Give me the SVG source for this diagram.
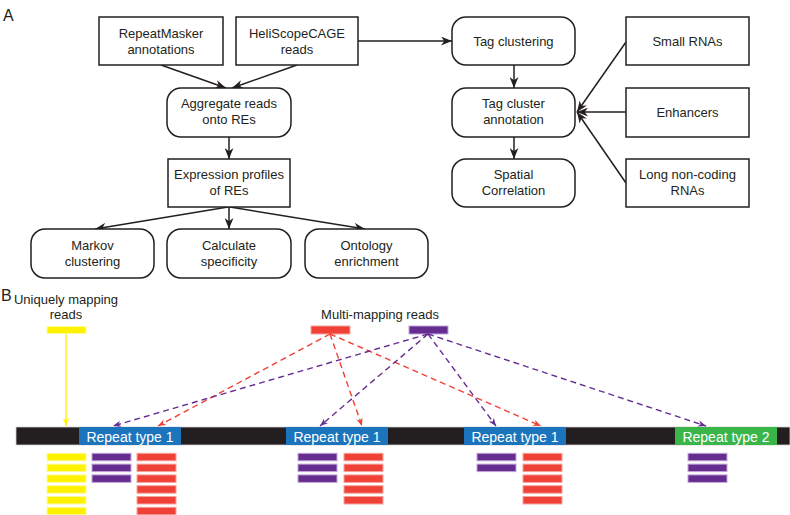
<svg xmlns="http://www.w3.org/2000/svg" width="790" height="515" viewBox="0 0 790 515">
<defs>
<style>
text{font-family:"Liberation Sans",Arial,sans-serif;fill:#231f20;}
.t{font-size:13px;text-anchor:middle;}
.lbl{font-size:16px;}
.box{fill:#fff;stroke:#231f20;stroke-width:1.5;}
.e{stroke:#231f20;stroke-width:1.5;fill:none;marker-end:url(#ah);}
.rt{font-size:14px;text-anchor:middle;fill:#fff;}
.dr{stroke:#ef4136;stroke-width:1.4;stroke-dasharray:6 4;fill:none;marker-end:url(#ahr);}
.dp{stroke:#662d91;stroke-width:1.4;stroke-dasharray:6 4;fill:none;marker-end:url(#ahp);}
.y{fill:#fff200;stroke:#fff9a0;stroke-width:1;}
.r{fill:#ef4136;stroke:#f7a39d;stroke-width:1;}
.p{fill:#662d91;stroke:#c2a6d8;stroke-width:1;}
</style>
<marker id="ah" viewBox="0 0 10 8" refX="10" refY="4" markerWidth="11" markerHeight="9" markerUnits="userSpaceOnUse" orient="auto"><path d="M0,0 L10,4 L0,8 L3,4 z" fill="#231f20"/></marker>
<marker id="ahr" viewBox="0 0 10 8" refX="10" refY="4" markerWidth="8" markerHeight="7" markerUnits="userSpaceOnUse" orient="auto"><path d="M0,0 L10,4 L0,8 L3,4 z" fill="#ef4136"/></marker>
<marker id="ahp" viewBox="0 0 10 8" refX="10" refY="4" markerWidth="8" markerHeight="7" markerUnits="userSpaceOnUse" orient="auto"><path d="M0,0 L10,4 L0,8 L3,4 z" fill="#662d91"/></marker>
<marker id="ahy" viewBox="0 0 10 8" refX="10" refY="4" markerWidth="8" markerHeight="7" markerUnits="userSpaceOnUse" orient="auto"><path d="M0,0 L10,4 L0,8 L3,4 z" fill="#fff200"/></marker>
</defs>
<rect width="790" height="515" fill="#fff"/>
<text class="lbl" x="3" y="21">A</text>
<text class="lbl" x="1" y="301">B</text>

<g id="connectors">
<line class="e" x1="161" y1="65" x2="226" y2="88"/>
<line class="e" x1="297" y1="65" x2="232" y2="88"/>
<line class="e" x1="358" y1="41" x2="452" y2="41"/>
<line class="e" x1="229" y1="137" x2="229" y2="159"/>
<line class="e" x1="228" y1="207" x2="95" y2="229"/>
<line class="e" x1="229" y1="207" x2="229" y2="229"/>
<line class="e" x1="230" y1="207" x2="365" y2="229"/>
<line class="e" x1="514" y1="65" x2="514" y2="88"/>
<line class="e" x1="514" y1="137" x2="514" y2="159"/>
<line class="e" x1="626" y1="42" x2="577" y2="112"/>
<line class="e" x1="626" y1="112" x2="577" y2="112"/>
<line class="e" x1="626" y1="183" x2="577" y2="112"/>
</g>

<g id="n-repeatmasker"><rect class="box" x="99" y="17" width="124" height="48"/><text class="t" x="161" y="37.5">RepeatMasker</text><text class="t" x="161" y="53.5">annotations</text></g>
<g id="n-heliscope"><rect class="box" x="236" y="17" width="122" height="48"/><text class="t" x="297" y="37.5">HeliScopeCAGE</text><text class="t" x="297" y="53.5">reads</text></g>
<g id="n-aggregate"><rect class="box" x="167" y="88" width="124" height="49" rx="14"/><text class="t" x="229" y="108">Aggregate reads</text><text class="t" x="229" y="124">onto REs</text></g>
<g id="n-expression"><rect class="box" x="168" y="159" width="122" height="48"/><text class="t" x="229" y="179">Expression profiles</text><text class="t" x="229" y="195">of REs</text></g>
<g id="n-markov"><rect class="box" x="31" y="229" width="123" height="49" rx="14"/><text class="t" x="92.5" y="249.5">Markov</text><text class="t" x="92.5" y="265.5">clustering</text></g>
<g id="n-calc"><rect class="box" x="167" y="229" width="124" height="49" rx="14"/><text class="t" x="229" y="249.5">Calculate</text><text class="t" x="229" y="265.5">specificity</text></g>
<g id="n-ontology"><rect class="box" x="305" y="229" width="123" height="49" rx="14"/><text class="t" x="366.5" y="249.5">Ontology</text><text class="t" x="366.5" y="265.5">enrichment</text></g>
<g id="n-tagclust"><rect class="box" x="452" y="17" width="123" height="48" rx="14"/><text class="t" x="513.5" y="45.5">Tag clustering</text></g>
<g id="n-tagann"><rect class="box" x="452" y="88" width="123" height="49" rx="14"/><text class="t" x="513.5" y="108">Tag cluster</text><text class="t" x="513.5" y="124">annotation</text></g>
<g id="n-spatial"><rect class="box" x="452" y="159" width="123" height="48" rx="14"/><text class="t" x="513.5" y="179">Spatial</text><text class="t" x="513.5" y="195">Correlation</text></g>
<g id="n-small"><rect class="box" x="626" y="17" width="123" height="48"/><text class="t" x="687.5" y="45.5">Small RNAs</text></g>
<g id="n-enh"><rect class="box" x="626" y="88" width="123" height="49"/><text class="t" x="687.5" y="117">Enhancers</text></g>
<g id="n-lnc"><rect class="box" x="626" y="159" width="123" height="48"/><text class="t" x="687.5" y="179">Long non-coding</text><text class="t" x="687.5" y="195">RNAs</text></g>

<g id="genome">
<rect x="16" y="427" width="774" height="18" fill="#231f20" stroke="#d0d0d0" stroke-width="0.8"/>
<rect x="79" y="427" width="102" height="18" fill="#1c75bc"/>
<rect x="286" y="427" width="102" height="18" fill="#1c75bc"/>
<rect x="464" y="427" width="102" height="18" fill="#1c75bc"/>
<rect x="675" y="427" width="102" height="18" fill="#39b54a"/>
<text class="rt" x="130" y="441.5">Repeat type 1</text>
<text class="rt" x="337" y="441.5">Repeat type 1</text>
<text class="rt" x="515" y="441.5">Repeat type 1</text>
<text class="rt" x="726" y="441.5">Repeat type 2</text>
</g>

<g id="reads-top">
<text class="t" x="66" y="304">Uniquely mapping</text>
<text class="t" x="66" y="319">reads</text>
<text class="t" x="380" y="319">Multi-mapping reads</text>
<rect class="y" x="47" y="326.5" width="39" height="7"/>
<rect class="r" x="311" y="326" width="39" height="8"/>
<rect class="p" x="409" y="326" width="39" height="8"/>
</g>

<g id="connectors-b">
<line x1="66" y1="334" x2="66" y2="426" stroke="#fff200" stroke-width="1.4" marker-end="url(#ahy)"/>
<line class="dr" x1="330" y1="334" x2="158" y2="426"/>
<line class="dr" x1="330" y1="334" x2="362" y2="426"/>
<line class="dr" x1="330" y1="334" x2="541" y2="426"/>
<line class="dp" x1="428" y1="334" x2="113" y2="426"/>
<line class="dp" x1="428" y1="334" x2="320" y2="426"/>
<line class="dp" x1="428" y1="334" x2="496" y2="426"/>
<line class="dp" x1="428" y1="334" x2="706" y2="426"/>
</g>

<g id="reads-bottom">
<rect class="y" x="47" y="453.3" width="39" height="7.5"/>
<rect class="y" x="47" y="464.1" width="39" height="7.5"/>
<rect class="y" x="47" y="474.9" width="39" height="7.5"/>
<rect class="y" x="47" y="485.7" width="39" height="7.5"/>
<rect class="y" x="47" y="496.5" width="39" height="7.5"/>
<rect class="y" x="47" y="507.3" width="39" height="7.5"/>
<rect class="p" x="92" y="453.3" width="39" height="7.5"/>
<rect class="p" x="92" y="464.1" width="39" height="7.5"/>
<rect class="p" x="92" y="474.9" width="39" height="7.5"/>
<rect class="r" x="137" y="453.3" width="39" height="7.5"/>
<rect class="r" x="137" y="464.1" width="39" height="7.5"/>
<rect class="r" x="137" y="474.9" width="39" height="7.5"/>
<rect class="r" x="137" y="485.7" width="39" height="7.5"/>
<rect class="r" x="137" y="496.5" width="39" height="7.5"/>
<rect class="r" x="137" y="507.3" width="39" height="7.5"/>
<rect class="p" x="298" y="453.3" width="39" height="7.5"/>
<rect class="p" x="298" y="464.1" width="39" height="7.5"/>
<rect class="p" x="298" y="474.9" width="39" height="7.5"/>
<rect class="r" x="344" y="453.3" width="39" height="7.5"/>
<rect class="r" x="344" y="464.1" width="39" height="7.5"/>
<rect class="r" x="344" y="474.9" width="39" height="7.5"/>
<rect class="r" x="344" y="485.7" width="39" height="7.5"/>
<rect class="r" x="344" y="496.5" width="39" height="7.5"/>
<rect class="p" x="477" y="453.3" width="39" height="7.5"/>
<rect class="p" x="477" y="464.1" width="39" height="7.5"/>
<rect class="r" x="523" y="453.3" width="39" height="7.5"/>
<rect class="r" x="523" y="464.1" width="39" height="7.5"/>
<rect class="r" x="523" y="474.9" width="39" height="7.5"/>
<rect class="r" x="523" y="485.7" width="39" height="7.5"/>
<rect class="r" x="523" y="496.5" width="39" height="7.5"/>
<rect class="p" x="688" y="453.3" width="39" height="7.5"/>
<rect class="p" x="688" y="464.1" width="39" height="7.5"/>
<rect class="p" x="688" y="474.9" width="39" height="7.5"/>
</g>
</svg>
